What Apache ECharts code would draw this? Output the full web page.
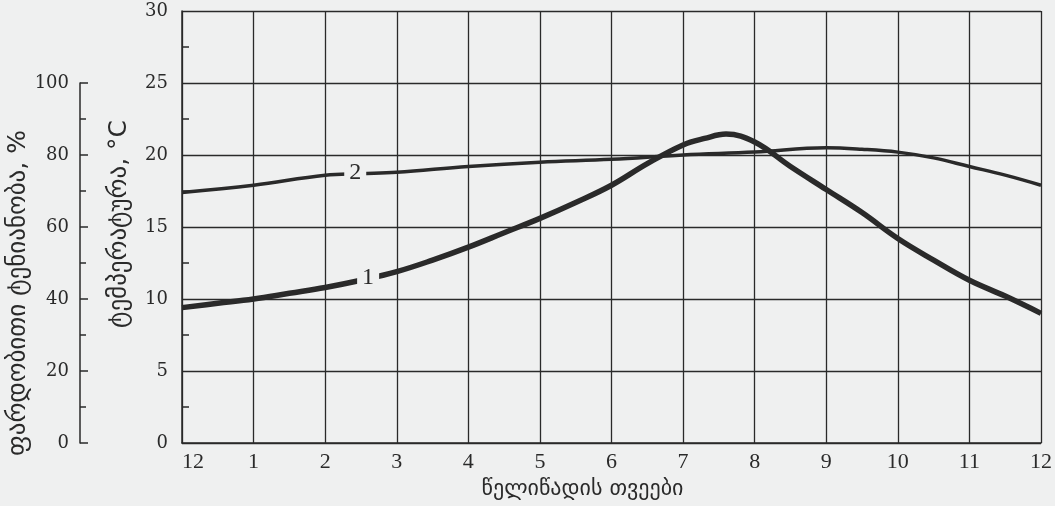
<!DOCTYPE html>
<html>
<head>
<meta charset="utf-8">
<script src="https://cdn.jsdelivr.net/npm/echarts@6/dist/echarts.min.js"></script>
<style>
html,body{margin:0;padding:0;background:#eff0f0;}
#c{width:1055px;height:506px;}
</style>
</head>
<body>
<div id="c"></div>
<script>
// Month positions (0 = December of previous year, 12 = December)
const monthTickLabels = ['12','1','2','3','4','5','6','7','8','9','10','11','12'];
// Curve 1 (thick)
const curve1Months = [0,0.5,1,1.5,2,2.5,3,3.5,4,4.5,5,5.5,6,6.5,7,7.3,7.6,8,8.5,9,9.5,10,10.5,11,11.5,12];
const curve1Temp   = [9.4,9.7,10.0,10.4,10.8,11.3,11.9,12.7,13.6,14.6,15.6,16.7,17.9,19.4,20.7,21.15,21.45,20.9,19.2,17.6,16.0,14.2,12.7,11.3,10.2,9.0];
// Curve 2 (thin)
const curve2Months = [0,1,2,2.5,3,4,5,6,7,8,9,9.5,10,10.5,11,11.5,12];
const curve2Temp   = [17.4,17.9,18.6,18.7,18.8,19.2,19.5,19.7,20.0,20.2,20.5,20.4,20.2,19.8,19.2,18.6,17.9];
// Curve labels (month position, temperature)
const label1 = {text:'1', month:2.6, temp:11.5};
const label2 = {text:'2', month:2.42, temp:18.75};

const BG = '#eff0f0';
const INK = '#2a2a2a';
const serif = '"Liberation Serif", "DejaVu Serif", serif';
const serifWide = '"DejaVu Serif", serif';
const geo = '"DejaVu Sans", sans-serif';

function pairs(xs, ys){ return xs.map((x,i)=>[x, ys[i]]); }

function curveLabel(l){
  return {
    coord:[l.month, l.temp],
    symbol:'rect',
    symbolSize:[22,18],
    itemStyle:{color:BG},
    label:{show:true, position:'inside', formatter:l.text, fontFamily:serif, fontSize:24, color:INK}
  };
}

const chart = echarts.init(document.getElementById('c'));
chart.setOption({
  backgroundColor: BG,
  animation:false,
  grid:[
    {left:182, right:12, top:11, bottom:63},
    {left:80, width:1, top:83, bottom:63}
  ],
  xAxis:[
    {
      type:'value', gridIndex:0, min:0, max:12, interval:1,
      axisLine:{show:true, lineStyle:{color:INK, width:1.5}},
      axisTick:{show:false},
      splitLine:{show:true, lineStyle:{color:INK, width:1.3}},
      axisLabel:{
        formatter:(v)=>monthTickLabels[Math.round(v)],
        fontFamily:serif, fontSize:22, color:INK, margin:8, alignMinLabel:'left'
      },
      name:'წელიწადის თვეები', nameLocation:'middle', nameGap:30,
      nameTextStyle:{fontFamily:geo, fontSize:22, color:INK, padding:[0,58,0,0]}
    },
    {
      type:'value', gridIndex:1, show:false, min:0, max:1
    }
  ],
  yAxis:[
    {
      type:'value', gridIndex:0, min:0, max:30, interval:5,
      axisLine:{show:true, lineStyle:{color:INK, width:1.5}},
      axisTick:{show:false, inside:true},
      minorTick:{show:true, splitNumber:2, length:7, lineStyle:{color:INK, width:1.5}},
      splitLine:{show:true, lineStyle:{color:INK, width:1.3}},
      axisLabel:{fontFamily:serifWide, fontSize:18, color:INK, margin:14},
      name:'ტემპერატურა, °C', nameLocation:'middle', nameGap:50, nameRotate:90,
      nameTextStyle:{fontFamily:geo, fontSize:25, color:INK, padding:[0,0,0,6]}
    },
    {
      type:'value', gridIndex:1, min:0, max:100, interval:20,
      axisLine:{show:true, lineStyle:{color:INK, width:1.5}},
      axisTick:{show:true, inside:true, length:8, lineStyle:{color:INK, width:1.5}},
      minorTick:{show:true, splitNumber:2, length:6, lineStyle:{color:INK, width:1.5}},
      splitLine:{show:false},
      axisLabel:{fontFamily:serifWide, fontSize:18, color:INK, margin:11},
      name:'ფარდობითი ტენიანობა, %', nameLocation:'middle', nameGap:42, nameRotate:90,
      nameTextStyle:{fontFamily:geo, fontSize:25, color:INK, padding:[0,60,0,0]}
    }
  ],
  series:[
    {
      type:'line', xAxisIndex:0, yAxisIndex:0,
      data: pairs(curve1Months, curve1Temp),
      smooth:0.4, showSymbol:false, symbol:'none',
      lineStyle:{color:INK, width:5.5},
      markPoint:{silent:true, data:[curveLabel(label1)]},
      z:3
    },
    {
      type:'line', xAxisIndex:0, yAxisIndex:0,
      data: pairs(curve2Months, curve2Temp),
      smooth:0.4, showSymbol:false, symbol:'none',
      lineStyle:{color:INK, width:3.5},
      markPoint:{silent:true, data:[curveLabel(label2)]},
      z:2
    }
  ]
});
</script>
</body>
</html>
